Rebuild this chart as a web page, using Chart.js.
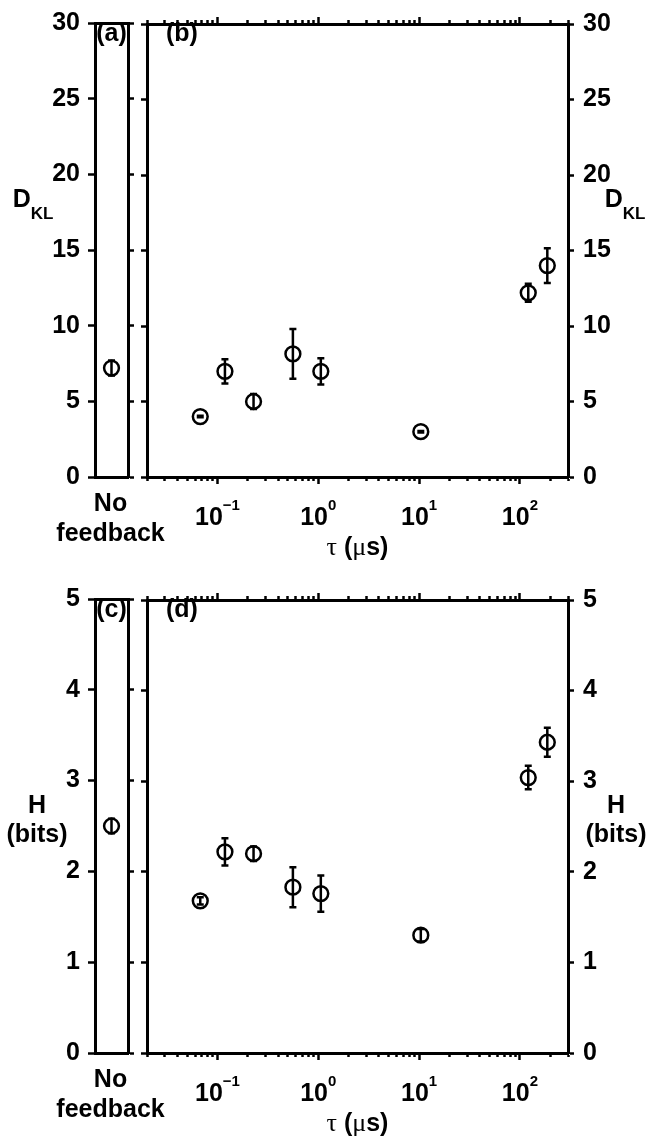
<!DOCTYPE html>
<html><head><meta charset="utf-8">
<script src="https://cdn.jsdelivr.net/npm/chart.js@4.4.1/dist/chart.umd.min.js"></script>
<style>
html,body{margin:0;padding:0;background:#fff;}
#wrap{position:relative;width:650px;height:1142px;overflow:hidden;background:#fff;}
canvas{position:absolute;left:0;}
</style></head><body>
<div id="wrap">
<canvas id="cA1" width="650" height="576" style="top:0;width:650px;height:576px"></canvas>
<canvas id="cB1" width="650" height="576" style="top:0;width:650px;height:576px"></canvas>
<canvas id="cA2" width="650" height="576" style="top:576px;width:650px;height:576px"></canvas>
<canvas id="cB2" width="650" height="576" style="top:576px;width:650px;height:576px"></canvas>
</div>
<script>
// ---- data ----
const tauValues = [0.0675, 0.1186, 0.228, 0.56, 1.06, 10.4, 121, 187];
const dklValues = [4.0, 7.0, 5.0, 8.15, 7.0, 3.0, 12.2, 14.0];
const dklErrors = [0.05, 0.8, 0.5, 1.65, 0.87, 0.05, 0.6, 1.15];
const dklNoFeedback = [7.2];
const dklNoFeedbackErrors = [0.5];
const hValues = [1.68, 2.22, 2.2, 1.83, 1.76, 1.3, 3.04, 3.43];
const hErrors = [0.04, 0.15, 0.08, 0.22, 0.2, 0.07, 0.13, 0.16];
const hNoFeedback = [2.5];
const hNoFeedbackErrors = [0.08];
const dklTicks = [0, 5, 10, 15, 20, 25, 30];
const hTicks = [0, 1, 2, 3, 4, 5];
const xMajorTicks = [0.1, 1, 10, 100];
const xTickExponents = ['\u22121', '0', '1', '2'];
const xMinorTicks = [0.02,0.03,0.04,0.05,0.06,0.07,0.08,0.09,0.2,0.3,0.4,0.5,0.6,0.7,0.8,0.9,2,3,4,5,6,7,8,9,20,30,40,50,60,70,80,90,200,300];
const xMin = 0.02, xMax = 300;

const SANS = "'Liberation Sans', Arial, Helvetica, sans-serif";
const SERIF = "'Liberation Serif', 'Times New Roman', serif";
const B25 = "bold 25px " + SANS;
const B17 = "bold 17px " + SANS;
const B15 = "bold 15px " + SANS;
const R25 = "26px " + SERIF;
const BLACK = '#000';
const border = {display:true, width:3, color:BLACK};

function drawSegs(ctx, segs, cx, baseline, align) {
  let total = 0;
  segs.forEach(s => { ctx.font = s.font; s.w = ctx.measureText(s.t).width; total += s.w; });
  let x = align === 'left' ? cx : cx - total / 2;
  ctx.textAlign = 'left'; ctx.textBaseline = 'alphabetic'; ctx.fillStyle = BLACK;
  segs.forEach(s => { ctx.font = s.font; ctx.fillText(s.t, x, baseline + (s.dy || 0)); x += s.w; });
}

const errorBarPlugin = {
  id: 'errbars',
  afterDatasetsDraw(chart) {
    const ctx = chart.ctx, xs = chart.scales.x, ys = chart.scales.y;
    chart.data.datasets.forEach(ds => {
      if (!ds.errors) return;
      ds.data.forEach((p, i) => {
        const px = xs.getPixelForValue(p.x);
        const t = ys.getPixelForValue(p.y + ds.errors[i]);
        const b = ys.getPixelForValue(p.y - ds.errors[i]);
        ctx.save();
        ctx.strokeStyle = BLACK; ctx.lineWidth = 2.5;
        ctx.beginPath();
        ctx.moveTo(px, t); ctx.lineTo(px, b);
        ctx.moveTo(px - 3.5, t); ctx.lineTo(px + 3.5, t);
        ctx.moveTo(px - 3.5, b); ctx.lineTo(px + 3.5, b);
        ctx.stroke();
        ctx.restore();
      });
    });
  }
};

function tickOnly(len) {
  return {display:true, drawOnChartArea:false, drawTicks:true, tickLength:len, tickWidth:2.5, tickColor:BLACK};
}
function setTicks(list) { return s => { s.ticks = list.map(v => ({value:v})); }; }

function pointDataset(xs, ys, errs) {
  return {
    data: ys.map((v, i) => ({x: xs[i], y: v})),
    errors: errs,
    showLine: false,
    pointStyle: 'circle', pointRadius: 7.4, pointBorderWidth: 2.5,
    pointBorderColor: BLACK, pointBackgroundColor: 'rgba(0,0,0,0)'
  };
}

function makeRow(cfg) {
  const leftText = {
    id: 'leftText',
    afterDraw(chart) {
      const ctx = chart.ctx, ca = chart.chartArea;
      const cx = (ca.left + ca.right) / 2;
      drawSegs(ctx, [{t: cfg.letterA, font: B25}], cx, 41);
      drawSegs(ctx, [{t: 'No', font: B25}], cx - 1, 511);
      drawSegs(ctx, [{t: 'feedback', font: B25}], cx - 1, 541);
      cfg.drawYTitle(ctx, cfg.leftTitleX);
    }
  };
  new Chart(document.getElementById(cfg.idA), {
    type: 'scatter',
    data: {datasets: [pointDataset(cfg.noFb.map(() => 0.5), cfg.noFb, cfg.noFbErr)]},
    options: {
      responsive: false, animation: false, events: [],
      layout: {padding: {left: 0, right: 512, top: 0, bottom: 0}},
      plugins: {legend: {display: false}, tooltip: {enabled: false}},
      scales: {
        x: {type: 'linear', position: 'bottom', min: 0, max: 1, ticks: {display: false}, grid: {display: false}, border, afterFit: s => { s.height = 99; }},
        xTop: {type: 'linear', position: 'top', min: 0, max: 1, ticks: {display: false}, grid: {display: false}, border, afterFit: s => { s.height = 16; }},
        y: {type: 'linear', position: 'left', min: 0, max: cfg.yMax, afterBuildTicks: setTicks(cfg.yTicks),
            ticks: {font: {family: SANS, size: 25, weight: 'bold'}, color: BLACK, padding: 8},
            grid: tickOnly(7), border, afterFit: s => { s.width = 95; }},
        yR: {type: 'linear', position: 'right', min: 0, max: cfg.yMax, afterBuildTicks: setTicks(cfg.yTicks),
            ticks: {display: false}, grid: tickOnly(6), border, afterFit: s => { s.width = 10; }}
      }
    },
    plugins: [errorBarPlugin, leftText]
  });

  const rightText = {
    id: 'rightText',
    afterDraw(chart) {
      const ctx = chart.ctx, ca = chart.chartArea, xs = chart.scales.x;
      drawSegs(ctx, [{t: cfg.letterB, font: B25}], 166, 41, 'left');
      xMajorTicks.forEach((v, i) => {
        const px = xs.getPixelForValue(v);
        drawSegs(ctx, [{t: '10', font: B25}, {t: xTickExponents[i], font: B15, dy: -15}], px, 525);
      });
      drawSegs(ctx, [
        {t: '\u03C4', font: R25}, {t: ' (', font: B25}, {t: '\u03BC', font: R25}, {t: 's)', font: B25}
      ], (ca.left + ca.right) / 2, 555);
      cfg.drawYTitle(ctx, cfg.rightTitleX);
    }
  };
  const logAxis = (pos, weight, list, len, h) => ({
    type: 'logarithmic', position: pos, weight, min: xMin, max: xMax,
    afterBuildTicks: setTicks(list), ticks: {display: false},
    grid: tickOnly(len), border, afterFit: s => { s.height = h; }
  });
  new Chart(document.getElementById(cfg.idB), {
    type: 'scatter',
    data: {datasets: [pointDataset(tauValues, cfg.vals, cfg.errs)]},
    options: {
      responsive: false, animation: false, events: [],
      layout: {padding: {left: 137, right: 0, top: 0, bottom: 0}},
      plugins: {legend: {display: false}, tooltip: {enabled: false}},
      scales: {
        x: logAxis('bottom', 0, xMinorTicks, 4, 0),
        xMaj: logAxis('bottom', 1, xMajorTicks, 7, 99),
        xTop: logAxis('top', 0, xMinorTicks, 4, 0),
        xTopMaj: logAxis('top', 1, xMajorTicks, 7, 16),
        y: {type: 'linear', position: 'right', min: 0, max: cfg.yMax, afterBuildTicks: setTicks(cfg.yTicks),
            ticks: {font: {family: SANS, size: 25, weight: 'bold'}, color: BLACK, padding: 9},
            grid: tickOnly(6), border, afterFit: s => { s.width = 82; }},
        yL: {type: 'linear', position: 'left', min: 0, max: cfg.yMax, afterBuildTicks: setTicks(cfg.yTicks),
            ticks: {display: false}, grid: tickOnly(6), border, afterFit: s => { s.width = 10; }}
      }
    },
    plugins: [errorBarPlugin, rightText]
  });
}

makeRow({
  idA: 'cA1', idB: 'cB1', yMax: 30, yTicks: dklTicks,
  noFb: dklNoFeedback, noFbErr: dklNoFeedbackErrors, vals: dklValues, errs: dklErrors,
  letterA: '(a)', letterB: '(b)', leftTitleX: 33, rightTitleX: 625,
  drawYTitle: (ctx, cx) => drawSegs(ctx, [{t: 'D', font: B25}, {t: 'KL', font: B17, dy: 12}], cx, 207)
});
makeRow({
  idA: 'cA2', idB: 'cB2', yMax: 5, yTicks: hTicks,
  noFb: hNoFeedback, noFbErr: hNoFeedbackErrors, vals: hValues, errs: hErrors,
  letterA: '(c)', letterB: '(d)', leftTitleX: 37, rightTitleX: 616,
  drawYTitle: (ctx, cx) => { drawSegs(ctx, [{t: 'H', font: B25}], cx, 237); drawSegs(ctx, [{t: '(bits)', font: B25}], cx, 266); }
});
</script>
</body></html>
